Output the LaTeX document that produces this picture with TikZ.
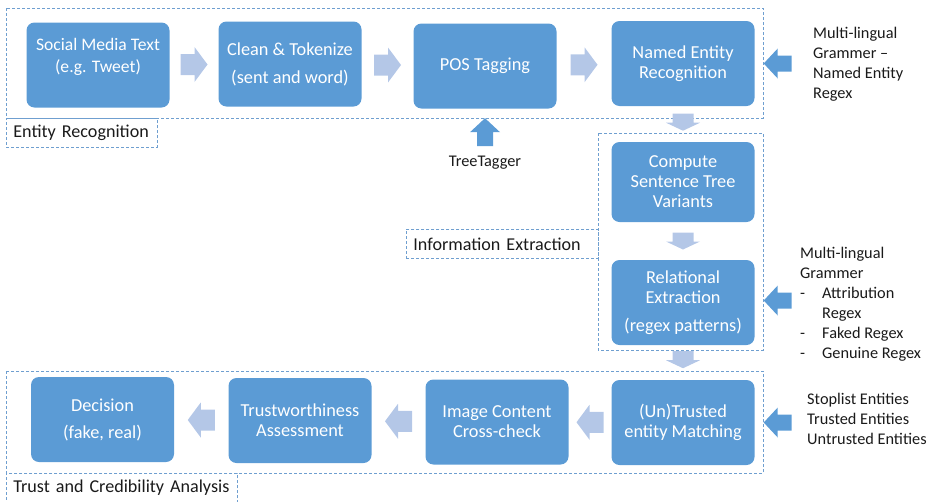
\documentclass[tikz,border=0pt]{standalone}
\usepackage{fontspec}
\setmainfont{Carlito}
\usetikzlibrary{positioning,calc}
\definecolor{boxblue}{HTML}{5B9BD5}
\definecolor{lightarr}{HTML}{B4C7E7}
\definecolor{dashblue}{HTML}{6F9FD0}
\definecolor{ink}{HTML}{1A1A1A}

% fat arrow: colour, centre, angle, length, head length, head width, shaft width
\newcommand{\fatarrow}[7]{%
  \fill[#1, shift={(#2)}, rotate=#3] (-#4/2,-#7/2) -- (#4/2-#5,-#7/2) -- (#4/2-#5,-#6/2) -- (#4/2,0)
    -- (#4/2-#5,#6/2) -- (#4/2-#5,#7/2) -- (-#4/2,#7/2) -- cycle;}
\newcommand{\flowarrow}[2]{\fatarrow{lightarr}{#1}{#2}{27}{13}{35}{21}}
\newcommand{\flowdown}[1]{\fatarrow{lightarr}{#1}{270}{17}{8}{34}{21}}
\newcommand{\feedarrow}[2]{\fatarrow{boxblue}{#1}{#2}{28}{14}{30}{16}}

\tikzset{
  stage/.style={rectangle, rounded corners=8pt, fill=boxblue, text=white, minimum width=143pt,
    minimum height=85pt, align=center, inner sep=2pt, font=\fontsize{18.3}{20}\selectfont},
  groupbox/.style={draw=dashblue, line width=0.8pt, dash pattern=on 3pt off 2pt},
  grouplabel/.style={groupbox, anchor=north west, minimum height=29pt, inner xsep=7pt, align=left,
    text=ink, font=\fontsize{18.1}{20}\selectfont},
  side/.style={anchor=north west, align=left, inner sep=0pt, text=ink, font=\fontsize{16.3}{20}\selectfont}
}

\begin{document}
\begin{tikzpicture}[x=1pt, y=-1pt]
    \useasboundingbox (0,0) rectangle (936,501);
    % group frames
    \draw[groupbox] (6,8) rectangle (763,118);
    \draw[groupbox] (598,133) rectangle (763,350);
    \draw[groupbox] (6,371) rectangle (763,473);
    \node[grouplabel, text width=137pt] (lblner) at (6,118) {Entity Recognition};
    \node[grouplabel, text width=178pt] (lblie) at (406,229) {Information Extraction};
    \node[grouplabel, text width=217pt] (lbltrust) at (6,473) {Trust and Credibility Analysis};

    % first row
    \node[stage, font=\fontsize{17.6}{20}\selectfont] (social) at (98,65) {Social Media Text\\[2pt](e.g. Tweet)\\\mbox{}};
    \node[stage] (clean) at (290,64) {Clean \& Tokenize\\[8pt](sent and word)};
    \node[stage] (pos) at (485,66) {POS Tagging};
    \node[stage] (ner) at (683,63.5) {Named Entity\\Recognition};
    \coordinate (f1) at ($(social.east)!0.5!(clean.west)$);
    \coordinate (f2) at ($(clean.east)!0.5!(pos.west)$);
    \coordinate (f3) at ($(pos.east)!0.5!(ner.west)$);
    \flowarrow{f1}{0}
    \flowarrow{f2}{0}
    \flowarrow{f3}{0}

    % extraction column
    \node[stage, minimum height=80pt] (tree) at (683,182) {Compute\\Sentence Tree\\Variants};
    \node[stage] (rel) at (683,302.5) {Relational\\Extraction\\[8pt](regex patterns)};
    \coordinate (d1) at ($(ner.south)!0.45!(tree.north)$);
    \coordinate (d2) at ($(tree.south)!0.5!(rel.north)$);
    \flowdown{d1}
    \flowdown{d2}

    % last row
    \node[stage] (match) at (683,422.5) {(Un)Trusted\\entity Matching};
    \node[stage] (image) at (497,422) {Image Content\\Cross-check};
    \node[stage] (trust) at (300,420.5) {Trustworthiness\\Assessment};
    \node[stage] (decide) at (102.5,419.5) {Decision\\[7pt](fake, real)};
    \coordinate (d3) at ($(rel.south)!0.42!(match.north)$);
    \coordinate (b1) at ($(match.west)!0.5!(image.east)$);
    \coordinate (b2) at ($(image.west)!0.5!(trust.east)$);
    \coordinate (b3) at ($(trust.west)!0.5!(decide.east)$);
    \flowdown{d3}
    \flowarrow{b1}{180}
    \flowarrow{b2}{180}
    \flowarrow{b3}{180}

    % outside inputs
    \coordinate (tagin) at ($(pos.south)+(0,23.5)$);
    \feedarrow{tagin}{90}
    \node[text=ink, font=\fontsize{16.3}{20}\selectfont] (tagger) at (485,163) {TreeTagger};
    \coordinate (nerin) at ($(ner.east)+(23,0)$);
    \feedarrow{nerin}{180}
    \node[side] (nersrc) at (813,27) {Multi-lingual\\Grammer --\\Named Entity\\Regex};
    \coordinate (relin) at ($(rel.east)+(23,-2)$);
    \feedarrow{relin}{180}
    \node[side] (relsrc) at (800,247) {Multi-lingual\\Grammer\\\makebox[22pt][l]{-}Attribution\\\hspace*{22pt}Regex\\\makebox[22pt][l]{-}Faked Regex\\\makebox[22pt][l]{-}Genuine Regex};
    \coordinate (matchin) at ($(match.east)+(23,0)$);
    \feedarrow{matchin}{180}
    \node[side] (matchsrc) at (807,393) {Stoplist Entities\\Trusted Entities\\Untrusted Entities};
\end{tikzpicture}
\end{document}
